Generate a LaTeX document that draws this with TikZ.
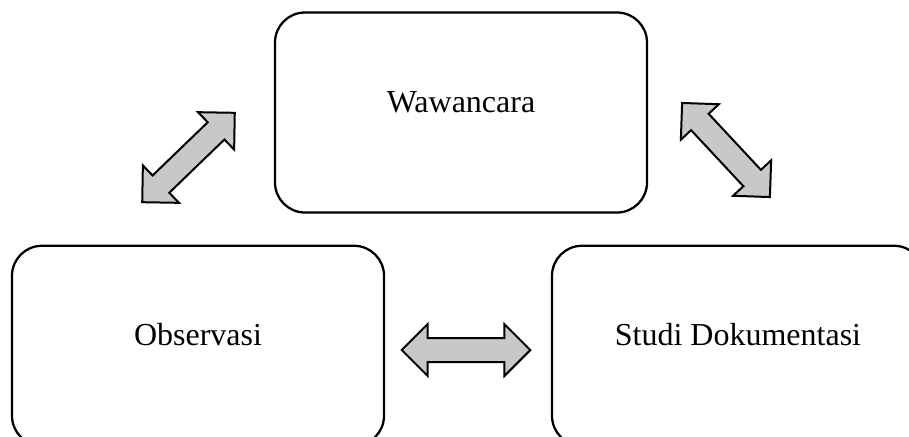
\documentclass[tikz,border=0pt]{standalone}
\usepackage{fontspec}
\setmainfont{Liberation Serif}
\usetikzlibrary{positioning,shapes.arrows}
\definecolor{arrowgray}{RGB}{200,200,200}
\begin{document}
\begin{tikzpicture}[x=0.75pt, y=-0.75pt,
    box/.style={draw, line width=1.7pt, rounded corners=22.5pt,
        minimum width=279pt, minimum height=150pt,
        text height=8pt, text depth=8pt,
        font=\fontsize{24pt}{29pt}\selectfont},
    dblarrow/.style={double arrow, draw, line width=1.5pt, fill=arrowgray,
        inner sep=8.25pt, minimum height=96.5pt, minimum width=37.5pt,
        double arrow head extend=10.5pt}]
    \clip (0,0) rectangle (909,436);
    \node[box] (waw) at (461,112.5) {Wawancara};
    \node[box, below=23.25pt of waw, xshift=-197.25pt] (obs) {Observasi};
    \node[box, below=23.25pt of waw, xshift=207.75pt] (dok) {Studi Dokumentasi};

    \node[dblarrow, rotate=44] (arrl) at (188.5,157.5) {};
    \node[dblarrow, rotate=-47] (arrr) at (726,150) {};
    \node[dblarrow] (arrb) at (466,350) {};
\end{tikzpicture}
\end{document}
